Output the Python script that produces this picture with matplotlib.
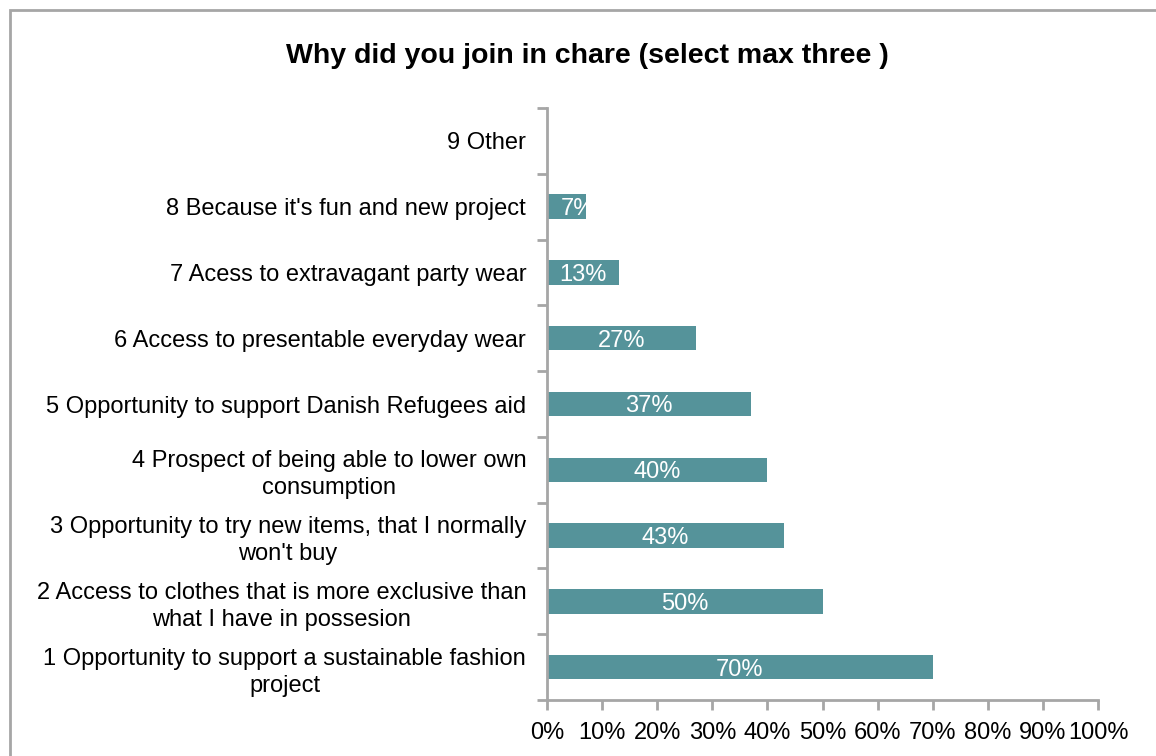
import numpy as np
import matplotlib.pyplot as plt
from matplotlib.patches import Rectangle

plt.rcParams['font.family'] = ['Liberation Sans', 'DejaVu Sans']

# survey answers, bottom to top
categories = [
    "1 Opportunity to support a sustainable fashion\nproject",
    "2 Access to clothes that is more exclusive than\nwhat I have in possesion",
    "3 Opportunity to try new items, that I normally\nwon't buy",
    "4 Prospect of being able to lower own\nconsumption",
    "5 Opportunity to support Danish Refugees aid",
    "6 Access to presentable everyday wear",
    "7 Acess to extravagant party wear",
    "8 Because it's fun and new project",
    "9 Other",
]
values = [70, 50, 43, 40, 37, 27, 13, 7, 0]
xticks = [0, 10, 20, 30, 40, 50, 60, 70, 80, 90, 100]

bar_color = '#55939a'
axis_gray = '#a6a6a6'
fs = 17

fig = plt.figure(figsize=(11.56, 7.56), dpi=100)
# outer chart border
fig.patches.append(Rectangle((10 / 1156, -0.1), 1.2, 1.1 - 10 / 756,
                             transform=fig.transFigure, fill=False,
                             edgecolor=axis_gray, linewidth=2))

ax = fig.add_axes([547 / 1156, 1 - 700 / 756, 551 / 1156, 592 / 756])
y = np.arange(len(categories))
bars = ax.barh(y, values, height=0.37, color=bar_color)

# labels in the bars, clipped to the bar like the original
for b, v in zip(bars, values):
    if v == 0:
        continue
    t = ax.text(max(v / 2, 5.6), b.get_y() + b.get_height() / 2, f"{v}%",
                ha='center', va='center_baseline', color='white', fontsize=fs)
    t.set_clip_path(b)

ax.set_xlim(0, 100)
ax.set_ylim(-0.5, len(categories) - 0.5)
ax.set_xticks(xticks)
ax.set_xticklabels([f"{x}%" for x in xticks], fontsize=fs)
ax.set_yticks(y)
ax.set_yticklabels(categories, fontsize=fs, multialignment='center',
                   linespacing=1.3)
ax.set_yticks(np.arange(-0.5, len(categories), 1), minor=True)
ax.tick_params(axis='y', which='major', length=0, pad=15)
ax.tick_params(axis='y', which='minor', length=7, width=2, color=axis_gray)
ax.tick_params(axis='x', length=7, width=2, color=axis_gray, pad=9)

for s in ['top', 'right']:
    ax.spines[s].set_visible(False)
for s in ['left', 'bottom']:
    ax.spines[s].set_color(axis_gray)
    ax.spines[s].set_linewidth(2)

fig.text(587 / 1156, 1 - 56 / 756, "Why did you join in chare (select max three )",
         ha='center', va='center', fontsize=20.5, fontweight='bold')

plt.savefig("out.png", dpi=100)
